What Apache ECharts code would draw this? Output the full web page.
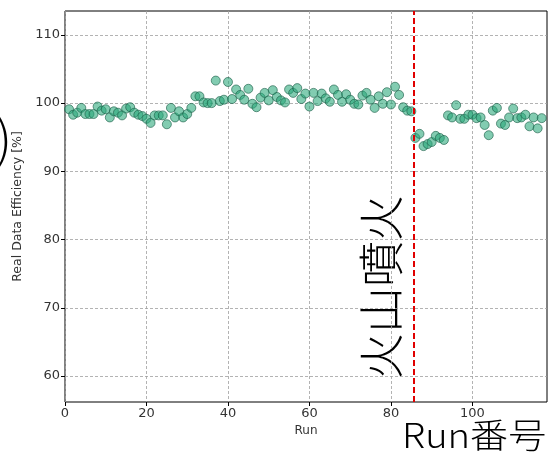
<!DOCTYPE html>
<html>
<head>
<meta charset="utf-8">
<script src="https://cdn.jsdelivr.net/npm/echarts@6/dist/echarts.min.js"></script>
<style>
  html, body { margin: 0; padding: 0; background: #fff; }
  #chart1 { width: 548px; height: 453px; }
</style>
</head>
<body>
<div id="chart1"></div>
<script>
// run numbers 1..117 and efficiency
const runs = [];
for (let i = 1; i <= 117; i++) runs.push(i);

const efficiency = [
  99.1, 98.3, 98.6, 99.3, 98.4, 98.4, 98.4, 99.5, 98.9, 99.1,
  97.9, 98.8, 98.6, 98.2, 99.2, 99.4, 98.6, 98.3, 98.1, 97.7,
  97.1, 98.2, 98.2, 98.2, 96.9, 99.3, 97.9, 98.8, 97.9, 98.4,
  99.3, 101.0, 101.0, 100.1, 100.0, 100.0, 103.3, 100.3, 100.5, 103.1,
  100.6, 102.0, 101.2, 100.5, 102.1, 99.9, 99.4, 100.8, 101.5, 100.4,
  101.9, 100.9, 100.4, 100.1, 102.0, 101.5, 102.2, 100.6, 101.4, 99.5,
  101.5, 100.3, 101.4, 100.7, 100.2, 102.0, 101.2, 100.2, 101.3, 100.5,
  99.9, 99.8, 101.1, 101.5, 100.5, 99.3, 101.0, 99.9, 101.6, 99.8,
  102.4, 101.2, 99.4, 98.9, 98.8, 94.9, 95.5, 93.7, 94.0, 94.3,
  95.2, 94.9, 94.6, 98.2, 97.9, 99.7, 97.7, 97.7, 98.3, 98.3,
  97.8, 97.9, 96.8, 95.3, 98.9, 99.3, 97.0, 96.8, 97.9, 99.2,
  97.8, 97.9, 98.3, 96.6, 97.9, 96.3, 97.8
];

const xTicks = [0, 20, 40, 60, 80, 100];
const yTicks = [60, 70, 80, 90, 100, 110];
const eruptionRun = 85.5;

const chart1 = echarts.init(document.getElementById("chart1"));

const points = runs.map((r, i) => [r, efficiency[i]]);

const gridLine = { show: true, lineStyle: { color: "#a0a0a0", type: [3, 2], width: 0.8 } };

chart1.setOption({
  animation: false,
  grid: {
    left: 65, right: 1, top: 11, bottom: 51,
    show: true, borderColor: "#000", borderWidth: 1, backgroundColor: "#fff"
  },
  xAxis: {
    type: "value",
    min: 0, max: 118.3,
    name: "Run",
    nameLocation: "middle",
    nameGap: 19,
    nameTextStyle: { fontFamily: "DejaVu Sans", fontSize: 12, color: "#333" },
    axisLine: { show: false },
    axisTick: { show: true, customValues: xTicks, length: 4, lineStyle: { color: "#000" } },
    axisLabel: { customValues: xTicks, fontFamily: "DejaVu Sans", fontSize: 13, color: "#333", margin: 5 },
    splitLine: gridLine
  },
  yAxis: {
    type: "value",
    min: 56.2, max: 113.5,
    name: "Real Data Efficiency [%]",
    nameLocation: "middle",
    nameGap: 34,
    nameTextStyle: { fontFamily: "DejaVu Sans", fontSize: 12.5, color: "#333" },
    axisLine: { show: false },
    axisTick: { show: true, customValues: yTicks, length: 4, lineStyle: { color: "#000" } },
    axisLabel: { customValues: yTicks, fontFamily: "DejaVu Sans", fontSize: 13, color: "#333", margin: 5 },
    splitLine: gridLine
  },
  series: [
    {
      type: "scatter",
      data: points,
      symbolSize: 9,
      itemStyle: { color: "rgba(38,166,120,0.72)", borderColor: "#1d5e48", borderWidth: 0.8 },
      markLine: {
        silent: true,
        symbol: "none",
        label: { show: false },
        lineStyle: { color: "#e00000", type: [6, 3], width: 2 },
        data: [{ xAxis: eruptionRun }]
      }
    }
  ],
  graphic: [
    {
      type: "text",
      x: 381, y: 287,
      rotation: Math.PI / 2,
      style: {
        text: "火山噴火",
        font: '300 46px "Noto Sans CJK JP"',
        fill: "#000",
        textAlign: "center",
        textVerticalAlign: "middle"
      }
    },
    {
      type: "text",
      x: 402, y: 452,
      scaleX: 1.12,
      style: {
        text: "Run番号",
        font: '300 34px "Noto Sans CJK JP"',
        fill: "#000",
        textAlign: "left",
        textVerticalAlign: "bottom"
      }
    },
    {
      type: "text",
      x: 12, y: 138,
      style: {
        text: ")",
        font: '300 50px "Noto Sans CJK JP"',
        fill: "#000",
        textAlign: "right",
        textVerticalAlign: "middle"
      }
    }
  ]
});
</script>
</body>
</html>
